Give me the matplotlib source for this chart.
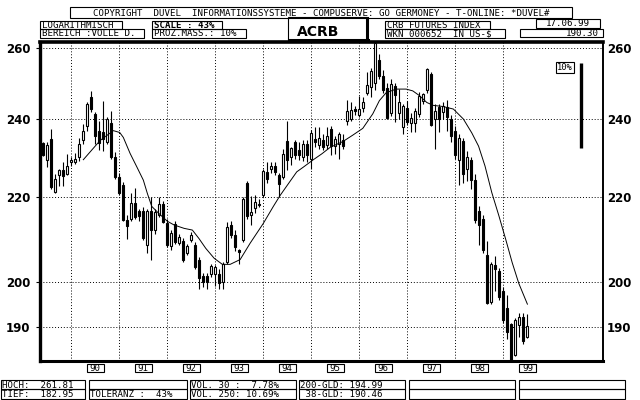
import numpy as np
import matplotlib
matplotlib.use("Agg")
import matplotlib.pyplot as plt
from matplotlib.patches import Rectangle
from matplotlib.ticker import NullLocator
from matplotlib.transforms import blended_transform_factory

# Monatskerzen CRB Futures Index, Jun 1989 - Jun 1999
opens = [233.6, 229.1, 234.7, 221.1, 225.3, 226.7, 225.7, 228.8, 228.6, 229.9,
         234.3, 238.2, 245.9, 241.3, 236.9, 236.5, 234.0, 239.0, 229.9, 224.8,
         222.9, 214.3, 214.5, 218.5, 216.5, 216.4, 208.4, 216.4, 211.9, 215.5,
         218.3, 213.6, 208.1, 213.4, 208.8, 209.2, 206.5, 209.6, 208.4, 205.0,
         201.3, 201.3, 201.6, 201.6, 201.8, 199.9, 204.5, 213.1, 210.8, 207.3,
         209.6, 223.3, 215.5, 217.2, 218.0, 220.3, 226.2, 226.9, 227.8, 225.5,
         224.9, 234.1, 229.9, 233.8, 231.9, 229.9, 233.4, 229.5, 234.7, 233.0,
         234.3, 233.0, 237.2, 232.8, 233.4, 234.4, 239.6, 240.1, 242.8, 241.2,
         242.9, 247.2, 248.7, 250.0, 256.3, 251.9, 248.6, 241.6, 249.1, 241.6,
         237.8, 243.1, 238.9, 238.9, 241.4, 245.0, 248.0, 252.3, 239.9, 243.2,
         241.9, 243.2, 240.0, 236.9, 229.2, 234.2, 226.9, 229.2, 224.1, 216.4,
         214.6, 206.1, 195.5, 203.7, 202.3, 198.0, 194.1, 190.6, 184.2, 190.5,
         192.1, 188.0]
highs = [234.0, 233.8, 237.3, 225.7, 227.0, 228.6, 230.8, 230.0, 231.0, 235.0,
         238.7, 244.5, 247.7, 241.8, 239.6, 245.0, 240.5, 242.3, 231.2, 225.8,
         223.7, 215.5, 221.0, 222.2, 217.0, 217.5, 217.0, 220.0, 217.0, 220.0,
         219.0, 214.5, 212.0, 214.0, 211.0, 210.0, 208.6, 211.5, 209.0, 205.5,
         202.0, 202.0, 204.0, 203.8, 202.8, 204.5, 213.9, 214.0, 212.0, 207.5,
         220.0, 224.0, 220.1, 220.3, 219.5, 227.0, 228.6, 228.6, 228.8, 226.0,
         232.0, 239.5, 232.5, 234.5, 234.0, 234.5, 234.5, 237.0, 237.8, 237.8,
         236.0, 237.8, 238.0, 235.5, 236.5, 236.0, 245.1, 244.5, 243.5, 246.2,
         246.0, 252.9, 254.0, 261.81, 258.2, 253.5, 250.0, 251.0, 250.0, 248.2,
         244.0, 245.0, 241.5, 243.0, 247.5, 247.0, 254.0, 253.0, 244.0, 244.0,
         244.5, 245.2, 241.0, 238.0, 236.0, 235.0, 231.6, 230.0, 225.7, 217.6,
         215.5, 209.2, 204.5, 205.8, 203.0, 198.7, 197.0, 191.0, 192.0, 193.0,
         193.0, 192.8]
lows = [230.2, 227.5, 222.0, 220.8, 222.7, 222.7, 225.3, 227.8, 228.2, 229.0,
        233.4, 236.9, 242.0, 233.4, 231.7, 231.5, 233.5, 229.5, 224.5, 220.3,
        214.0, 209.8, 214.0, 214.5, 214.1, 209.5, 206.5, 205.0, 211.0, 215.0,
        213.5, 208.0, 207.3, 208.6, 208.3, 204.5, 206.0, 209.0, 202.8, 198.3,
        198.7, 198.3, 201.0, 199.0, 198.3, 198.3, 204.0, 210.0, 207.0, 203.9,
        209.0, 214.5, 213.1, 216.0, 217.5, 220.0, 223.5, 226.0, 225.5, 220.0,
        224.5, 226.6, 228.0, 229.5, 229.2, 229.0, 228.7, 227.0, 232.6, 232.0,
        231.7, 232.0, 230.5, 230.7, 229.6, 232.0, 238.5, 239.5, 241.0, 240.5,
        242.0, 246.5, 246.0, 248.0, 251.0, 247.0, 240.0, 240.7, 239.2, 240.0,
        235.9, 238.5, 236.5, 236.5, 240.5, 244.0, 247.0, 238.0, 232.0, 236.5,
        240.0, 236.7, 234.0, 229.5, 222.9, 223.5, 224.0, 222.0, 213.5, 208.4,
        206.5, 195.0, 195.0, 198.0, 196.0, 191.0, 187.5, 182.95, 184.0, 188.0,
        186.5, 187.8]
closes = [230.4, 233.0, 222.3, 224.4, 226.7, 225.1, 227.8, 229.3, 229.6, 233.4,
          236.9, 244.1, 242.7, 235.6, 233.6, 234.8, 240.0, 229.9, 224.9, 220.8,
          214.3, 212.9, 218.5, 215.1, 215.3, 210.1, 216.4, 211.9, 216.2, 218.3,
          213.9, 208.4, 211.1, 209.1, 210.3, 205.0, 208.1, 210.7, 203.2, 200.9,
          200.0, 199.8, 203.5, 203.2, 199.6, 203.9, 212.7, 210.7, 207.8, 206.8,
          219.3, 215.2, 216.3, 218.6, 218.3, 226.4, 224.3, 227.6, 226.2, 223.2,
          230.8, 229.3, 232.2, 230.5, 230.6, 233.4, 230.5, 236.4, 233.8, 235.0,
          232.5, 235.6, 232.8, 234.8, 235.9, 232.8, 242.1, 242.5, 242.1, 242.6,
          244.7, 249.4, 253.4, 261.5, 252.0, 247.9, 240.3, 249.5, 246.6, 244.6,
          243.4, 239.3, 240.2, 242.2, 246.4, 246.8, 253.8, 238.5, 242.2, 240.0,
          243.6, 240.5, 235.6, 230.5, 234.9, 225.7, 229.9, 224.1, 214.3, 213.1,
          207.3, 195.3, 203.9, 202.8, 196.6, 191.6, 189.0, 183.2, 191.6, 192.2,
          187.0, 190.3]

# 200-Tage-Linie (Kerzenindex / Wert)
ma_idx = [10, 14.2, 17.5, 19.1, 20, 21.7, 23.4, 25, 26, 27.1, 28.75, 31, 32.7,
          35.2, 37.25, 38.9, 40.6, 42.7, 44.75, 46.7, 49.2, 51.7, 55, 57.5, 59.2,
          61.25, 63.35, 65, 67.5, 69.6, 71.7, 74.85, 77.35, 79.85, 82.35, 84,
          85.7, 88.2, 90.7, 92.35, 94, 95.85, 97.5, 99.9, 102.5, 105, 107.1,
          108.8, 110.4, 112.1, 113.85, 115.55, 117.2, 118.85, 121]
ma_val = [229.3, 234.3, 236.9, 236.4, 235.1, 230.9, 227.4, 224.1, 220.8, 217.6,
          216.0, 214.0, 213.1, 212.3, 211.9, 209.9, 207.6, 205.3, 203.9, 203.9,
          205.0, 208.8, 213.5, 217.6, 220.3, 223.2, 226.2, 227.4, 229.3, 230.8,
          232.5, 234.0, 235.7, 237.5, 241.4, 245.0, 247.2, 248.2, 248.2, 247.7,
          246.4, 244.5, 243.7, 243.4, 242.7, 240.0, 236.3, 232.8, 227.7, 221.0,
          215.4, 209.8, 204.3, 199.6, 195.0]

years = ["90", "91", "92", "93", "94", "95", "96", "97", "98", "99"]
yticks = [190, 200, 220, 240, 260]
scale_top, scale_bottom = 255.6, 232.4   # 10%-Balken
y_low, y_high = 182.95, 261.81

W, H = 640, 400
MONO = "DejaVu Sans Mono"
FS = 6.6
fig = plt.figure(figsize=(6.4, 4.0), dpi=100)


def fx(x):
    return x / W


def fy(y):
    return 1 - y / H


def box(x0, y0, x1, y1, lw=0.8):
    fig.add_artist(Rectangle((fx(x0), fy(y1)), (x1 - x0) / W, (y1 - y0) / H,
                             transform=fig.transFigure, fill=False,
                             edgecolor="black", linewidth=lw))


def label(x, ybase, s, ha="left", weight="normal", size=FS, family=MONO):
    fig.text(fx(x), fy(ybase), s, ha=ha, va="baseline", fontsize=size,
             fontweight=weight, family=family)


# Hauptdiagramm
ax = fig.add_axes([fx(40), fy(361), (603 - 40) / W, (361 - 41.5) / H])
ax.set_yscale("log")
ax.set_ylim(y_low, y_high)
ax.set_xlim(-0.83, 139.9)

o = np.array(opens)
c = np.array(closes)
idx = np.arange(len(c))
up = c >= o
ax.vlines(idx, lows, highs, color="black", linewidth=0.8, zorder=3)
ax.bar(idx[up], c[up] - o[up], bottom=o[up], width=0.55, facecolor="white",
       edgecolor="black", linewidth=0.8, zorder=4)
ax.bar(idx[~up], o[~up] - c[~up], bottom=c[~up], width=0.55, facecolor="black",
       edgecolor="black", linewidth=0.8, zorder=4)
ax.plot(ma_idx, ma_val, color="black", linewidth=0.7, zorder=5)

# 10%-Massstab
ax.vlines(134.4, scale_bottom, scale_top, color="black", linewidth=2.4)
ax.text(130.4, scale_top, "10%", ha="center", va="top", fontsize=6.3,
        family=MONO, bbox=dict(boxstyle="square,pad=0.12", fc="white",
                               ec="black", lw=0.8))

# Achsen / Gitter
ax.set_xticks([7 + 12 * k for k in range(len(years))])
ax.set_yticks(yticks, labels=[str(v) for v in yticks])
ax.yaxis.set_minor_locator(NullLocator())
ax.tick_params(axis="x", length=0, labelbottom=False)
ax.tick_params(axis="y", direction="out", length=3, width=0.8, pad=4,
               labelsize=8.5)
for t in ax.get_yticklabels():
    t.set_fontweight("bold")
ax.grid(True, color="black", linestyle=(0, (1, 2)), linewidth=0.7)
ax.set_axisbelow(True)
for side, lw in [("left", 2.4), ("top", 2.6), ("bottom", 2.2), ("right", 1.4)]:
    ax.spines[side].set_linewidth(lw)

ax2 = ax.twinx()
ax2.set_yscale("log")
ax2.set_ylim(y_low, y_high)
ax2.set_yticks(yticks, labels=[str(v) for v in yticks])
ax2.yaxis.set_minor_locator(NullLocator())
ax2.tick_params(axis="y", length=0, pad=3, labelsize=8.5)
for t in ax2.get_yticklabels():
    t.set_fontweight("bold")
for s in ax2.spines.values():
    s.set_visible(False)

# Jahresbeschriftung
tr = blended_transform_factory(ax.transData, fig.transFigure)
for k, yr in enumerate(years):
    pos = 13 + 12 * k
    fig.add_artist(Rectangle((pos - 2.1, fy(372)), 4.2, 8 / H, transform=tr,
                             fill=False, edgecolor="black", linewidth=0.8))
    fig.text(pos, fy(370.6), yr, transform=tr, ha="center", va="baseline",
             fontsize=FS, family=MONO)

# Kopfzeile
box(70, 7, 572, 18)
label(321, 16.0, "COPYRIGHT  DUVEL  INFORMATIONSSYSTEME - COMPUSERVE: GO "
      "GERMONEY - T-ONLINE: *DUVEL#", ha="center")
box(40, 20.5, 122, 29)
label(42, 27.5, "LOGARITHMISCH")
box(40, 29, 143.5, 38)
label(42, 36.3, "BEREICH :VOLLE D.")
box(151.5, 20.5, 222, 29)
label(153.5, 27.5, "SCALE : 43%", weight="bold")
box(151.5, 29, 246, 38)
label(153.5, 36.3, "PROZ.MASS.: 10%")
box(288, 17, 367, 39.5)
fig.add_artist(plt.Line2D([fx(367), fx(367)], [fy(18), fy(40)], color="black",
                          linewidth=2.2, transform=fig.transFigure))
fig.add_artist(plt.Line2D([fx(289), fx(368)], [fy(39.5), fy(39.5)],
                          color="black", linewidth=2.2,
                          transform=fig.transFigure))
label(318, 36.5, "ACRB", ha="center", weight="bold", size=10,
      family="DejaVu Sans")
box(385, 20.5, 490, 29)
label(387, 27.5, "CRB FUTURES INDEX")
box(385, 29, 505, 38)
label(387, 36.3, "WKN 000652  IN US-$")
box(536, 19.5, 600, 27.5)
label(568, 26.3, "17.06.99", ha="center")
box(520, 28.5, 603, 37)
label(599, 35.6, "190.30", ha="right")

# Fusszeile
foot = [(0.5, 85, "HOCH:  261.81", "TIEF:  182.95"),
        (89, 187, "", "TOLERANZ :  43%"),
        (189.5, 296, "VOL. 30 :  7.78%", "VOL. 250: 10.69%"),
        (299, 405, "200-GLD: 194.99", " 38-GLD: 190.46"),
        (409, 515, "", ""),
        (519, 625, "", "")]
for x0, x1, t1, t2 in foot:
    box(x0, 379.5, x1, 389)
    box(x0, 389, x1, 398.5)
    if t1:
        label(x0 + 1.5, 387.5, t1)
    if t2:
        label(x0 + 1.5, 397.0, t2)

fig.savefig("out.png", dpi=100)
